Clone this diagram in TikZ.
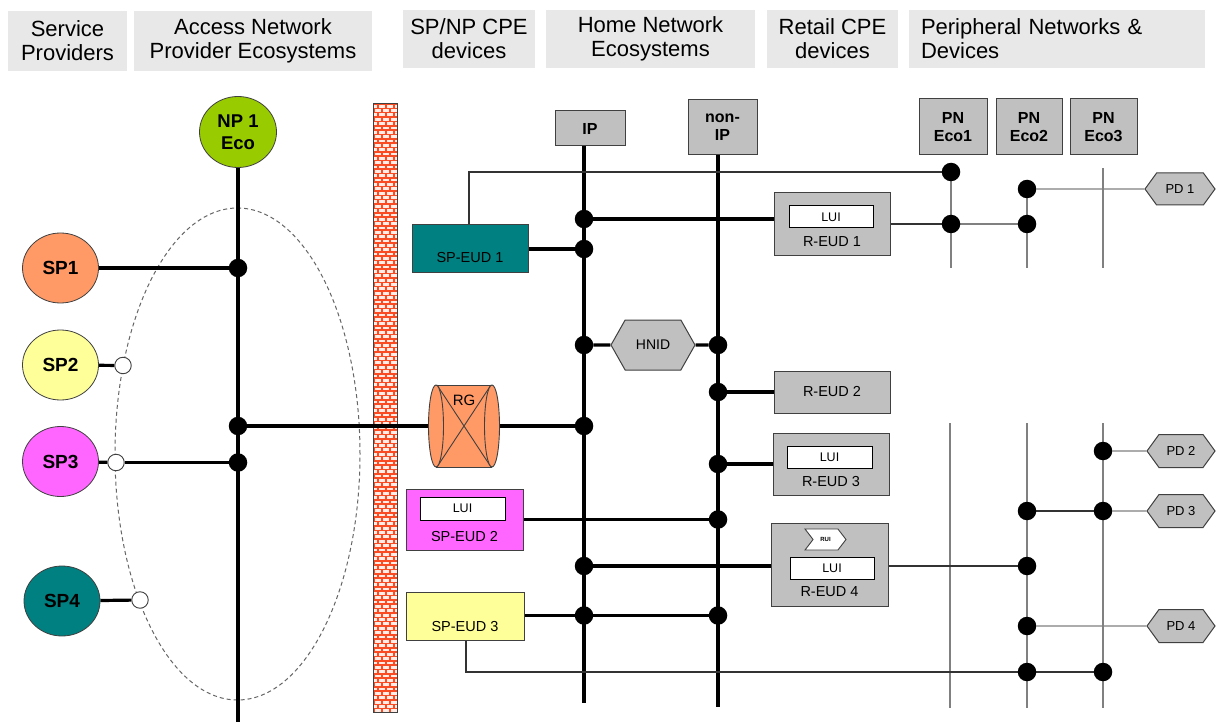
\documentclass[tikz,border=0pt]{standalone}
\usepackage{fontspec}
\setmainfont{Liberation Sans}
\usetikzlibrary{shapes.geometric,shapes.symbols}
\pgfdeclarelayer{base}
\pgfdeclarelayer{back}
\pgfdeclarelayer{mid}
\pgfsetlayers{base,back,mid,main}

\definecolor{hdr}{HTML}{E8E8E8}
\definecolor{boxgray}{HTML}{C0C0C0}
\definecolor{linegray}{HTML}{404040}
\definecolor{npgreen}{HTML}{99CC00}
\definecolor{salmon}{HTML}{FF9966}
\definecolor{paleyellow}{HTML}{FFFF99}
\definecolor{spmagenta}{HTML}{FF66FF}
\definecolor{spteal}{HTML}{008080}
\definecolor{mortar}{RGB}{250,75,35}
\definecolor{brickface}{RGB}{255,236,230}

\begin{document}
\begin{tikzpicture}[x=1pt,y=-1pt,
  hdrbox/.style={fill=hdr, inner sep=0pt, align=center, font=\fontsize{22}{24}\selectfont},
  spnode/.style={ellipse, draw=linegray, line width=0.8pt, minimum width=76pt, minimum height=70pt,
    inner sep=0pt, align=center, font=\fontsize{19}{21}\selectfont\bfseries},
  busbox/.style={draw=linegray, fill=boxgray, line width=1pt, inner sep=0pt, align=center,
    font=\fontsize{16}{18}\selectfont\bfseries},
  eud/.style={draw=linegray, line width=1pt, inner sep=0pt, font=\fontsize{14.5}{16}\selectfont},
  lui/.style={draw=black, fill=white, line width=1pt, inner sep=0pt, minimum width=84pt,
    minimum height=22pt, font=\fontsize{12.5}{14}\selectfont},
  lbl/.style={inner sep=0pt, font=\fontsize{14.5}{16}\selectfont},
  dot/.style={circle, fill=black, inner sep=0pt, minimum size=18.5pt},
  odot/.style={circle, draw=linegray, fill=white, line width=0.9pt, inner sep=0pt, minimum size=16.5pt},
  hexa/.style={signal, signal to=east and west, draw=linegray, fill=boxgray, line width=1pt, inner sep=0pt},
  bus/.style={line width=3.2pt, line cap=butt},
  wire/.style={line width=1.2pt, draw=black!80},
  pnwire/.style={line width=1.4pt, draw=black!50},
]
\useasboundingbox (0,0) rectangle (1219,722);
\begin{pgfonlayer}{base}
  \fill[white] (0,0) rectangle (1219,722);
\end{pgfonlayer}

% ---------- column headers ----------
\node[hdrbox, minimum width=119pt, minimum height=60pt] (hsp) at (67.5,41) {Service\\Providers};
\node[hdrbox, minimum width=238pt, minimum height=60pt] (han) at (253,41) {Access Network\\Provider Ecosystems};
\node[hdrbox, minimum width=132pt, minimum height=58pt] (hcpe) at (469,39) {SP/NP CPE\\devices};
\node[hdrbox, minimum width=209pt, minimum height=58pt] (hhome) at (650.5,39) {Home Network\\Ecosystems};
\node[hdrbox, minimum width=131pt, minimum height=58pt] (hret) at (832.5,39) {Retail CPE\\devices};
\node[hdrbox, text width=272pt, inner xsep=12pt, align=left, minimum height=58pt] (hpn) at (1057,39)
  {Peripheral Networks \&\\Devices};

% ---------- access network and service providers ----------
\begin{pgfonlayer}{back}
  \draw[black!60, line width=1pt, dash pattern=on 4pt off 3pt]
    (237.5,454) ellipse [x radius=122.5pt, y radius=246pt];
  % firewall
  \node[minimum width=23pt, minimum height=608pt, inner sep=0pt] (fw) at (385.5,408) {};
  \fill[brickface] (fw.north west) rectangle (fw.south east);
  \begin{scope}
    \clip (fw.north west) rectangle (fw.south east);
    \foreach \r in {0,...,140} {
      \pgfmathsetmacro\yy{104+\r*4.35}
      \pgfmathsetmacro\off{mod(\r,2)*4}
      \draw[mortar, line width=1.6pt] (370,\yy) -- (400,\yy);
      \foreach \k in {0,1,2,3} {
        \draw[mortar, line width=1.6pt] ({370+\off+\k*8},\yy) -- ({370+\off+\k*8},{\yy+4.35});
      }
    }
  \end{scope}
  \draw[linegray, line width=0.9pt] (fw.north west) rectangle (fw.south east);
\end{pgfonlayer}

\node[spnode, fill=npgreen, minimum width=77pt, minimum height=71pt,
  font=\fontsize{18.5}{22}\selectfont\bfseries] (np) at (238,132) {NP 1\\Eco};
\node[spnode, fill=salmon] (sp1) at (60.5,268) {SP1};
\node[spnode, fill=paleyellow] (sp2) at (60.5,365) {SP2};
\node[spnode, fill=spmagenta] (sp3) at (60.5,461.5) {SP3};
\node[spnode, fill=spteal] (sp4) at (62,601) {SP4};
\node[odot] (o2) at (123,365.5) {};
\node[odot] (o3) at (116,462.5) {};
\node[odot] (o4) at (140,600) {};
\node[dot] (la) at (238,268) {};
\node[dot] (lb) at (238,426) {};
\node[dot] (lc) at (238,462.5) {};
\coordinate (npend) at (238,722);

% ---------- CPE devices ----------
\node[eud, fill=spteal, minimum width=116pt, minimum height=48pt] (s1) at (470,249) {};
\node[lbl] (s1l) at (470,258) {SP-EUD 1};
\node[eud, fill=spmagenta, minimum width=117pt, minimum height=61pt] (s2) at (464.5,519.5) {};
\node[lui, minimum width=85pt, minimum height=23pt] (s2u) at (462.5,508.5) {LUI};
\node[lbl] (s2l) at (464.5,537) {SP-EUD 2};
\node[eud, fill=paleyellow, minimum width=118pt, minimum height=48pt] (s3) at (465,616) {};
\node[lbl] (s3l) at (465,627) {SP-EUD 3};

% residential gateway drum
\node[minimum width=72pt, minimum height=82pt, inner sep=0pt] (rg) at (464,426) {};
\fill[salmon] (436,385) rectangle (492,467);
\draw[linegray, line width=0.9pt] (436,385) -- (492,385) (436,467) -- (492,467);
\draw[linegray, line width=0.9pt] (437,385) -- (491,467) (491,385) -- (437,467);
\draw[linegray, line width=0.9pt, fill=salmon] (436,426) ellipse [x radius=7.5pt, y radius=41pt];
\draw[linegray, line width=0.9pt, fill=salmon] (492,426) ellipse [x radius=7.5pt, y radius=41pt];
\node[inner sep=0pt, font=\fontsize{15}{17}\selectfont] (rgl) at (464,400) {RG};

% ---------- home network buses ----------
\node[busbox, minimum width=70pt, minimum height=35pt] (ip) at (590,128.5) {IP};
\node[busbox, minimum width=69pt, minimum height=55pt] (nonip) at (722.5,127.5) {non-\\IP};
\coordinate (ipend) at (584,703);
\coordinate (nonipend) at (718,707);
\node[dot] (i1) at (584,219) {};
\node[dot] (i2) at (584,249) {};
\node[dot] (i3) at (584,345) {};
\node[dot] (i4) at (584,426) {};
\node[dot] (i5) at (584,566) {};
\node[dot] (i6) at (584,615.5) {};
\node[dot] (n1) at (718,345) {};
\node[dot] (n2) at (718,392) {};
\node[dot] (n3) at (718,464) {};
\node[dot] (n4) at (718,519.5) {};
\node[dot] (n5) at (718,615.5) {};
\node[hexa, minimum width=84pt, minimum height=50pt, signal pointer angle=121,
  font=\fontsize{14}{16}\selectfont] (hx) at (653,345) {HNID};

% ---------- retail devices ----------
\node[eud, fill=boxgray, minimum width=116pt, minimum height=63pt] (r1) at (832,224.5) {};
\node[lui] (r1u) at (831,217) {LUI};
\node[lbl] (r1l) at (832,242) {R-EUD 1};
\node[eud, fill=boxgray, minimum width=116pt, minimum height=42pt] (r2) at (832,392) {R-EUD 2};
\node[eud, fill=boxgray, minimum width=116pt, minimum height=62pt] (r3) at (831,464) {};
\node[lui, minimum width=85pt] (r3u) at (829.5,457) {LUI};
\node[lbl] (r3l) at (831,482) {R-EUD 3};
\node[eud, fill=boxgray, minimum width=117pt, minimum height=83pt] (r4) at (829.5,564.5) {};
\node[signal, signal from=west, signal to=east, draw=linegray, fill=white, line width=0.9pt,
  minimum width=41pt, minimum height=21pt, signal pointer angle=105, inner sep=0pt,
  font=\fontsize{6}{7}\selectfont\bfseries] (rui) at (825.5,539.5) {RUI};
\node[lui] (r4u) at (832,568) {LUI};
\node[lbl] (r4l) at (829.5,592) {R-EUD 4};

% ---------- peripheral networks ----------
\node[busbox, minimum width=68pt, minimum height=56pt] (pn1) at (953,127) {PN\\Eco1};
\node[busbox, minimum width=66pt, minimum height=56pt] (pn2) at (1029,127) {PN\\Eco2};
\node[busbox, minimum width=67pt, minimum height=56pt] (pn3) at (1103.5,127) {PN\\Eco3};
\node[dot] (u1) at (951,172) {};
\node[dot] (u2) at (1027,189) {};
\node[dot] (u3) at (951,224) {};
\node[dot] (u4) at (1027,224) {};
\node[dot] (w1) at (1103,451) {};
\node[dot] (w2) at (1027,511) {};
\node[dot] (w3) at (1103,511) {};
\node[dot] (w4) at (1027,566) {};
\node[dot] (w5) at (1027,626) {};
\node[dot] (w6) at (1027,672) {};
\node[dot] (w7) at (1103,672) {};
\coordinate (p1b) at (951,268);
\coordinate (p2a) at (1027,180);
\coordinate (p2b) at (1027,268);
\coordinate (p3a) at (1103,168);
\coordinate (p3b) at (1103,268);
\coordinate (q1a) at (950,423);
\coordinate (q1b) at (950,708);
\coordinate (q2a) at (1027,423);
\coordinate (q2b) at (1027,708);
\coordinate (q3a) at (1103,423);
\coordinate (q3b) at (1103,708);
\coordinate (k1) at (469,172);
\coordinate (k3) at (466,672);

\node[hexa, minimum width=70pt, minimum height=32pt, signal pointer angle=108,
  font=\fontsize{13}{15}\selectfont] (pd1) at (1180,189) {PD 1};
\node[hexa, minimum width=68pt, minimum height=33pt, signal pointer angle=108,
  font=\fontsize{13}{15}\selectfont] (pd2) at (1181,451) {PD 2};
\node[hexa, minimum width=68pt, minimum height=33pt, signal pointer angle=108,
  font=\fontsize{13}{15}\selectfont] (pd3) at (1181,511) {PD 3};
\node[hexa, minimum width=68pt, minimum height=33pt, signal pointer angle=108,
  font=\fontsize{13}{15}\selectfont] (pd4) at (1181,626) {PD 4};

% ---------- connectors ----------
\begin{pgfonlayer}{mid}
  % access network
  \draw[bus] (np) -- (npend);
  \draw[bus] (sp1) -- (la);
  \draw[bus] (sp2) -- (o2);
  \draw[bus] (sp3) -- (o3);
  \draw[bus] (o3) -- (lc);
  \draw[bus] (sp4) -- (o4);
  \draw[bus] (lb) -- (lb -| rg.west);
  \draw[bus] (rg) -- (i4);
  % home network buses
  \draw[bus] (ip.south -| i1) -- (ipend);
  \draw[bus] (nonip.south -| n1) -- (nonipend);
  \draw[bus] (i1) -- (i1 -| r1.west);
  \draw[bus] (s1) -- (i2);
  \draw[bus] (i3) -- (hx);
  \draw[bus] (hx) -- (n1);
  \draw[bus] (n2) -- (r2);
  \draw[bus] (n3) -- (r3);
  \draw[bus] (s2.east |- n4) -- (n4);
  \draw[bus] (i5) -- (i5 -| r4.west);
  \draw[bus] (s3.east |- i6) -- (i6);
  \draw[bus] (i6) -- (n5);
  % peripheral network lines
  \draw[pnwire] (u1) -- (p1b);
  \draw[pnwire] (p2a) -- (p2b);
  \draw[pnwire] (p3a) -- (p3b);
  \draw[pnwire] (q1a) -- (q1b);
  \draw[pnwire] (q2a) -- (q2b);
  \draw[pnwire] (q3a) -- (q3b);
  % device attachments
  \draw[wire] (s1.north -| k1) -- (k1) -- (u1);
  \draw[wire] (r1.east |- u3) -- (u3);
  \draw[pnwire] (u3) -- (u4);
  \draw[pnwire] (u2) -- (pd1);
  \draw[pnwire] (w1) -- (pd2);
  \draw[wire] (w2) -- (w3);
  \draw[pnwire] (w3) -- (pd3);
  \draw[wire] (r4.east |- w4) -- (w4);
  \draw[pnwire] (w5) -- (pd4);
  \draw[wire] (s3.south -| k3) -- (k3) -- (w6);
  \draw[wire] (w6) -- (w7);
\end{pgfonlayer}
\end{tikzpicture}
\end{document}
